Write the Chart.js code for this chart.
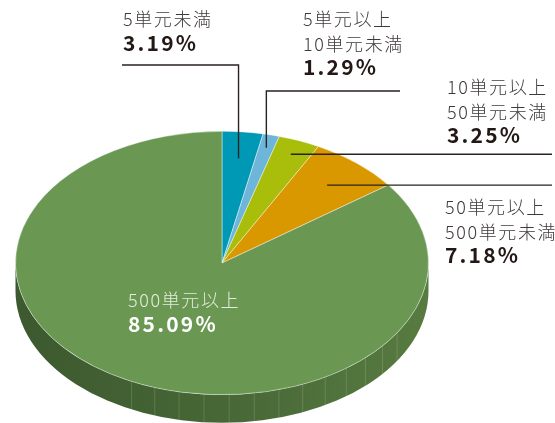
<!DOCTYPE html>
<html>
<head>
<meta charset="utf-8">
<script src="https://cdn.jsdelivr.net/npm/chart.js@4/dist/chart.umd.min.js"></script>
<style>
  html, body { margin: 0; padding: 0; background: #fff; overflow: hidden; }
  #wrap { width: 555px; height: 423px; position: relative; }
</style>
</head>
<body>
<div id="wrap"><canvas id="pieChart"></canvas></div>
<script>
// data ------------------------------------------
var categories = [
  ['5単元未満'],
  ['5単元以上', '10単元未満'],
  ['10単元以上', '50単元未満'],
  ['50単元以上', '500単元未満'],
  ['500単元以上']
];
var shares = [3.19, 1.29, 3.25, 7.18, 85.09]; // percent
var sliceColors = ['#0099b5', '#6db5d9', '#a9bd0b', '#da9800', '#6a9853'];

// look ------------------------------------------
var PIE_Y = 263;      // where the tilted pie centre sits on the page
var TILT = 0.638;     // vertical squash of the top face
var DEPTH = 28;       // thickness of the side, px
var FONT_CJK = '"Noto Sans CJK JP", "Noto Sans", sans-serif';

// where each label block goes, and how its leader is drawn
var labelBoxes = [
  { x: 123, y: 26, lead: { f: 0.80, bendY: 65, toX: 122 } },
  { x: 303, y: 26, lead: { f: 0.90, bendY: 91, toX: 400 } },
  { x: 447, y: 94, lead: { f: 0.89, toX: 552 } },
  { x: 445, y: 214, lead: { f: 0.78, toX: 552 } },
  { x: 128, y: 307, white: true }
];

// point inside slice i, f = fraction of radius, already tilted
function slicePoint(chart, i, f) {
  var a = chart.getDatasetMeta(0).data[i];
  var mid = (a.startAngle + a.endAngle) / 2;
  return {
    x: a.x + Math.cos(mid) * a.outerRadius * f,
    y: PIE_Y + Math.sin(mid) * a.outerRadius * f * TILT
  };
}

var pie3d = {
  id: 'pie3d',
  beforeDatasetsDraw: function (chart) {
    var ctx = chart.ctx;
    var arc = chart.getDatasetMeta(0).data[0];
    var cx = arc.x, cy = arc.y, r = arc.outerRadius;
    ctx.save();
    ctx.translate(cx, PIE_Y);
    ctx.scale(1, TILT);
    ctx.translate(-cx, -cy);

    // side of the cake
    var d = DEPTH / TILT;
    var g = ctx.createLinearGradient(cx - r, 0, cx + r, 0);
    g.addColorStop(0, '#3c592f');
    g.addColorStop(0.5, '#476736');
    g.addColorStop(1, '#587b41');
    ctx.beginPath();
    ctx.arc(cx, cy, r, 0, Math.PI);
    ctx.arc(cx, cy + d, r, Math.PI, 0, true);
    ctx.closePath();
    ctx.fillStyle = g;
    ctx.fill();

    // faint facet edges on the side
    ctx.strokeStyle = 'rgba(255,255,255,0.18)';
    ctx.lineWidth = 1;
    for (var deg = 32; deg <= 122; deg += 7) {
      var t = deg * Math.PI / 180;
      var px = cx + Math.cos(t) * r, py = cy + Math.sin(t) * r;
      ctx.beginPath();
      ctx.moveTo(px, py);
      ctx.lineTo(px, py + d);
      ctx.stroke();
    }
  },
  afterDatasetsDraw: function (chart) {
    chart.ctx.restore();
  },
  afterDraw: function (chart) {
    var ctx = chart.ctx;
    ctx.save();

    // leader lines
    ctx.strokeStyle = '#2a2220';
    ctx.lineWidth = 1.4;
    labelBoxes.forEach(function (b, i) {
      if (!b.lead) return;
      var p = slicePoint(chart, i, b.lead.f);
      ctx.beginPath();
      ctx.moveTo(p.x, p.y);
      if (b.lead.bendY !== undefined) {
        ctx.lineTo(p.x, b.lead.bendY);
        ctx.lineTo(b.lead.toX, b.lead.bendY);
      } else {
        ctx.lineTo(b.lead.toX, p.y);
      }
      ctx.stroke();
    });

    // labels
    ctx.textAlign = 'left';
    ctx.textBaseline = 'alphabetic';
    labelBoxes.forEach(function (b, i) {
      var y = b.y;
      ctx.font = '300 18px ' + FONT_CJK;
      ctx.fillStyle = b.white ? '#e4ecdc' : '#3e3a39';
      ctx.letterSpacing = '1.6px';
      categories[i].forEach(function (line) {
        ctx.fillText(line, b.x, y);
        y += 24.5;
      });
      ctx.font = 'bold 21px ' + FONT_CJK;
      ctx.fillStyle = b.white ? '#ffffff' : '#231815';
      ctx.letterSpacing = '2.2px';
      ctx.fillText(shares[i].toFixed(2) + '%', b.x, y);
      ctx.letterSpacing = '0px';
    });
    ctx.restore();
  }
};

var ctx = document.getElementById('pieChart').getContext('2d');
var pieChart = new Chart(ctx, {
  type: 'pie',
  data: {
    labels: categories.map(function (c) { return c.join(''); }),
    datasets: [{
      data: shares,
      backgroundColor: sliceColors,
      borderColor: 'rgba(255,255,255,0.5)',
      borderWidth: 1,
      clip: false
    }]
  },
  options: {
    responsive: true,
    maintainAspectRatio: false,
    animation: false,
    events: [],
    layout: { padding: { left: 15, right: 126, top: 4, bottom: 5 } },
    plugins: {
      legend: { display: false },
      tooltip: { enabled: false }
    }
  },
  plugins: [pie3d]
});
</script>
</body>
</html>
